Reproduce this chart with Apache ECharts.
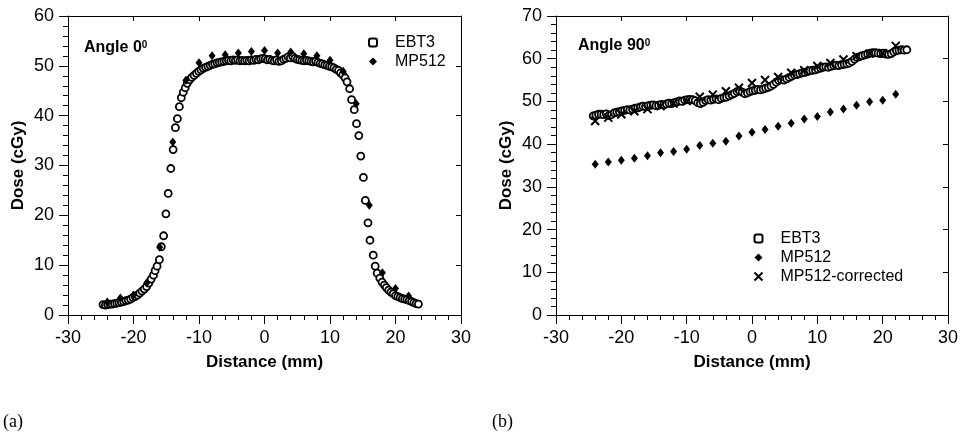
<!DOCTYPE html>
<html>
<head>
<meta charset="utf-8">
<script src="https://cdn.jsdelivr.net/npm/echarts@6/dist/echarts.min.js"></script>
<style>
  html, body { margin: 0; padding: 0; background: #fff; }
  #chart { width: 961px; height: 439px; }
</style>
</head>
<body>
<div id="chart"></div>
<script>
// dose profiles, [distance mm, dose cGy]
var ebt3Angle0 = [
  [-24.65,2.1],[-24.3,2.0],[-23.95,2.1],[-23.6,2.2],[-23.25,2.2],[-22.9,2.3],[-22.55,2.4],[-22.2,2.5],
  [-21.85,2.6],[-21.5,2.7],[-21.15,2.9],[-20.8,3.0],[-20.45,3.2],[-20.1,3.5],[-19.75,3.7],[-19.4,4.0],
  [-19.05,4.4],[-18.7,4.8],[-18.35,5.2],[-18.0,5.7],[-17.65,6.4],[-17.3,7.2],[-16.95,8.0],[-16.7,8.9],
  [-16.4,9.8],[-16.05,11.1],[-15.75,13.7],[-15.4,15.9],[-15.05,20.3],[-14.7,24.4],[-14.3,29.4],[-13.95,33.2],
  [-13.6,37.6],[-13.3,39.4],[-13.0,41.8],[-12.7,43.6],[-12.4,44.7],[-12.1,45.6],[-11.8,46.5],[-11.45,47.2],
  [-11.1,47.7],[-10.75,48.1],[-10.4,48.5],[-10.05,48.9],[-9.7,49.2],[-9.35,49.5],[-9.0,49.7],[-8.65,49.9],
  [-8.3,50.1],[-7.95,50.3],[-7.6,50.4],[-7.25,50.6],[-6.9,50.7],[-6.55,50.8],[-6.2,50.9],[-5.85,51.0],
  [-5.5,51.1],[-5.15,51.0],[-4.8,51.2],[-4.45,51.1],[-4.1,51.2],[-3.75,51.0],[-3.4,51.1],[-3.05,51.0],
  [-2.7,51.1],[-2.35,51.0],[-2.0,51.2],[-1.65,51.1],[-1.3,51.3],[-0.95,51.2],[-0.6,51.4],[-0.25,51.5],
  [0.1,51.4],[0.45,51.2],[0.8,51.3],[1.15,51.1],[1.5,51.0],[1.85,51.2],[2.2,50.9],[2.55,51.0],
  [2.9,51.3],[3.25,51.5],[3.6,51.8],[3.95,51.6],[4.3,51.9],[4.65,51.5],[5.0,51.3],[5.35,51.2],
  [5.7,51.1],[6.05,51.0],[6.4,51.1],[6.75,51.0],[7.1,50.9],[7.45,50.8],[7.8,50.9],[8.15,50.7],
  [8.5,50.5],[8.85,50.4],[9.2,50.2],[9.55,50.1],[9.9,49.9],[10.25,49.8],[10.6,49.6],[10.95,49.3],
  [11.3,49.1],[11.6,48.6],[11.95,48.2],[12.3,47.6],[12.6,46.8],[13.0,45.4],[13.3,43.2],[13.7,41.2],
  [14.05,38.4],[14.4,36.0],[14.7,31.9],[15.1,27.6],[15.4,23.0],[15.8,18.5],[16.1,15.0],[16.6,12.0],
  [16.9,9.8],[17.2,8.4],[17.6,7.4],[17.95,6.6],[18.3,6.0],[18.6,5.5],[18.95,5.0],[19.3,4.6],
  [19.65,4.3],[20.0,3.9],[20.35,3.7],[20.7,3.5],[21.05,3.3],[21.4,3.2],[21.75,3.1],[22.1,2.9],
  [22.45,2.7],[22.8,2.5],[23.15,2.3],[23.5,2.2]
];
var mp512Angle0 = [
  [-24,2.6],[-22,3.4],[-20,4.0],[-18,6.4],[-16,13.6],[-14,34.7],[-12,47.1],[-10,50.6],
  [-8,52.0],[-6,52.2],[-4,52.6],[-2,52.9],[0,53.1],[2,52.6],[4,52.8],[6,52.4],
  [8,52.0],[10,51.1],[12,48.9],[14,42.4],[16,22.0],[18,8.5],[20,5.3],[22,3.8]
];
var ebt3Angle90 = [
  [-24.3,46.6],[-23.9,46.8],[-23.5,47.0],[-23.1,47.0],[-22.7,46.9],[-22.3,47.1],[-21.9,46.7],[-21.5,46.9],
  [-21.1,47.3],[-20.7,47.5],[-20.3,47.6],[-19.9,47.8],[-19.5,47.9],[-19.1,48.1],[-18.7,48.0],[-18.3,48.2],
  [-17.9,48.4],[-17.5,48.5],[-17.1,48.7],[-16.7,48.9],[-16.3,48.8],[-15.9,49.0],[-15.5,49.1],[-15.1,49.2],
  [-14.7,49.0],[-14.3,49.1],[-13.9,49.3],[-13.5,49.2],[-13.1,49.4],[-12.7,49.6],[-12.3,49.5],[-11.9,49.7],
  [-11.5,49.9],[-11.1,50.1],[-10.7,50.0],[-10.3,50.3],[-9.9,50.4],[-9.5,50.5],[-9.1,50.4],[-8.7,50.2],
  [-8.3,49.7],[-7.9,49.5],[-7.5,49.8],[-7.1,50.2],[-6.7,50.4],[-6.3,50.3],[-5.9,50.5],[-5.5,50.6],
  [-5.1,50.4],[-4.7,50.7],[-4.3,50.9],[-3.9,51.0],[-3.5,51.3],[-3.1,51.6],[-2.7,51.9],[-2.3,52.3],
  [-1.9,52.5],[-1.5,52.2],[-1.1,51.8],[-0.7,52.0],[-0.3,52.3],[0.1,52.5],[0.5,52.6],[0.9,52.8],
  [1.3,52.7],[1.7,52.9],[2.1,53.1],[2.5,53.3],[2.9,53.6],[3.3,54.0],[3.7,54.5],[4.1,54.9],
  [4.5,55.1],[4.9,55.0],[5.3,55.3],[5.7,55.6],[6.1,55.9],[6.5,56.2],[6.9,56.3],[7.3,56.5],
  [7.7,56.7],[8.1,56.8],[8.5,57.0],[8.9,57.2],[9.3,57.3],[9.7,57.4],[10.1,57.6],[10.5,57.8],
  [10.9,58.0],[11.3,58.1],[11.7,58.0],[12.1,58.2],[12.5,58.4],[12.9,58.5],[13.3,58.4],[13.7,58.6],
  [14.1,58.7],[14.5,58.8],[14.9,59.0],[15.3,59.4],[15.7,59.9],[16.1,60.3],[16.5,60.5],[16.9,60.7],
  [17.3,60.9],[17.7,61.1],[18.1,61.3],[18.5,61.4],[18.9,61.4],[19.3,61.3],[19.7,61.2],[20.1,61.3],
  [20.5,61.1],[20.9,61.0],[21.3,61.2],[21.7,61.6],[22.1,61.9],[22.5,62.0],[22.9,62.1],[23.3,62.0],
  [23.7,62.1]
];
var mp512Angle90 = [
  [-24,35.3],[-22,35.8],[-20,36.2],[-18,36.7],[-16,37.3],[-14,38.0],[-12,38.3],[-10,38.8],
  [-8,39.7],[-6,40.2],[-4,40.7],[-2,41.9],[0,42.8],[2,43.4],[4,44.2],[6,44.9],
  [8,45.9],[10,46.5],[12,47.5],[14,48.2],[16,49.1],[18,49.9],[20,50.3],[22,51.7]
];
var mp512CorrAngle90 = [
  [-24,45.4],[-22,46.2],[-20,47.0],[-18,47.7],[-16,48.2],[-14,48.9],[-12,49.5],[-10,50.1],
  [-8,51.1],[-6,51.6],[-4,52.4],[-2,53.2],[0,54.3],[2,55.0],[4,55.7],[6,56.7],
  [8,57.3],[10,58.3],[12,59.0],[14,59.8],[16,60.6],[18,61.2],[20,61.3],[22,63.0]
];

var FONT = 'Liberation Sans';
var CROSS = 'path://M0,0L10,10M10,0L0,10';

function bottomAxis(gi) {
  return {
    gridIndex: gi, type: 'value', position: 'bottom', min: -30, max: 30, interval: 10,
    axisLine: { onZero: false, lineStyle: { color: '#000', width: 1 } },
    axisTick: { inside: false, length: 9, lineStyle: { color: '#000' } },
    minorTick: { show: true, splitNumber: 5, length: 5, lineStyle: { color: '#000' } },
    splitLine: { show: false },
    axisLabel: { color: '#000', fontSize: 18, fontFamily: FONT, margin: 14 },
    name: 'Distance (mm)', nameLocation: 'middle', nameGap: 39,
    nameTextStyle: { color: '#000', fontSize: 17, fontWeight: 'bold', fontFamily: FONT }
  };
}
function topAxis(gi) {
  return {
    gridIndex: gi, type: 'value', position: 'top', min: -30, max: 30, interval: 10,
    axisLine: { onZero: false, lineStyle: { color: '#000', width: 1 } },
    axisTick: { inside: true, length: 5, lineStyle: { color: '#000' } },
    axisLabel: { show: false }, splitLine: { show: false }
  };
}
function leftAxis(gi, max) {
  return {
    gridIndex: gi, type: 'value', position: 'left', min: 0, max: max, interval: 10,
    axisLine: { onZero: false, lineStyle: { color: '#000', width: 1 } },
    axisTick: { inside: false, length: 9, lineStyle: { color: '#000' } },
    minorTick: { show: true, splitNumber: 5, length: 5, lineStyle: { color: '#000' } },
    splitLine: { show: false },
    axisLabel: { color: '#000', fontSize: 18, fontFamily: FONT, margin: 14 },
    name: 'Dose (cGy)', nameLocation: 'middle', nameGap: 41,
    nameTextStyle: { color: '#000', fontSize: 17, fontWeight: 'bold', fontFamily: FONT }
  };
}
function rightAxis(gi, max) {
  return {
    gridIndex: gi, type: 'value', position: 'right', min: 0, max: max, interval: 10,
    axisLine: { onZero: false, lineStyle: { color: '#000', width: 1 } },
    axisTick: { inside: true, length: 5, lineStyle: { color: '#000' } },
    axisLabel: { show: false }, splitLine: { show: false }
  };
}

var circleStyle = { color: '#fff', borderColor: '#000', borderWidth: 1.8, opacity: 1 };
var diamondStyle = { color: '#000', borderWidth: 0, opacity: 1 };
var crossStyle = { color: 'none', borderColor: '#000', borderWidth: 2, opacity: 1 };

function scatter(name, data, gi, symbol, size, style) {
  return {
    type: 'scatter', name: name, data: data, xAxisIndex: gi * 2, yAxisIndex: gi * 2,
    symbol: symbol, symbolSize: size, itemStyle: style, silent: true, animation: false
  };
}

var legendText = { color: '#000', fontSize: 16, fontFamily: FONT, lineHeight: 19, padding: [0, 0, 0, 13] };

var chart = echarts.init(document.getElementById('chart'));
chart.setOption({
  animation: false,
  backgroundColor: '#fff',
  grid: [
    { left: 68, top: 16, width: 393, height: 299 },
    { left: 556, top: 16, width: 393, height: 299 }
  ],
  xAxis: [bottomAxis(0), topAxis(0), bottomAxis(1), topAxis(1)],
  yAxis: [leftAxis(0, 60), rightAxis(0, 60), leftAxis(1, 70), rightAxis(1, 70)],
  legend: [
    {
      orient: 'vertical', left: 368, top: 33, padding: 0, itemWidth: 8, itemHeight: 8, itemGap: 0,
      selectedMode: false, textStyle: legendText,
      data: [
        { name: 'EBT3', icon: 'roundRect', itemStyle: { color: '#fff', borderColor: '#000', borderWidth: 2 } },
        { name: 'MP512', icon: 'diamond', itemStyle: diamondStyle }
      ]
    },
    {
      orient: 'vertical', left: 752, top: 229, padding: 0, itemWidth: 8, itemHeight: 8, itemGap: 0,
      selectedMode: false, textStyle: legendText,
      data: [
        { name: 'EBT3', icon: 'roundRect', itemStyle: { color: '#fff', borderColor: '#000', borderWidth: 2 } },
        { name: 'MP512', icon: 'diamond', itemStyle: diamondStyle },
        { name: 'MP512-corrected', icon: CROSS, itemStyle: crossStyle }
      ]
    }
  ],
  graphic: [
    { type: 'text', left: 84, top: 40, style: { text: '{a|Angle 0}{s|0}', rich: {
      a: { fontSize: 16, fontWeight: 'bold', fontFamily: FONT, fill: '#000' },
      s: { fontSize: 10, fontWeight: 'bold', fontFamily: FONT, fill: '#000', verticalAlign: 'top' } } } },
    { type: 'text', left: 578, top: 38, style: { text: '{a|Angle 90}{s|0}', rich: {
      a: { fontSize: 16, fontWeight: 'bold', fontFamily: FONT, fill: '#000' },
      s: { fontSize: 10, fontWeight: 'bold', fontFamily: FONT, fill: '#000', verticalAlign: 'top' } } } },
    { type: 'text', left: 3, top: 413, style: { text: '(a)', fontSize: 18, fontFamily: 'Liberation Serif', fill: '#000' } },
    { type: 'text', left: 492, top: 413, style: { text: '(b)', fontSize: 18, fontFamily: 'Liberation Serif', fill: '#000' } }
  ],
  series: [
    scatter('EBT3', ebt3Angle0, 0, 'circle', 7, circleStyle),
    scatter('MP512', mp512Angle0, 0, 'diamond', [7, 9], diamondStyle),
    scatter('EBT3', ebt3Angle90, 1, 'circle', 7, circleStyle),
    scatter('MP512', mp512Angle90, 1, 'diamond', [7, 9], diamondStyle),
    scatter('MP512-corrected', mp512CorrAngle90, 1, CROSS, 8, crossStyle)
  ]
});
</script>
</body>
</html>
